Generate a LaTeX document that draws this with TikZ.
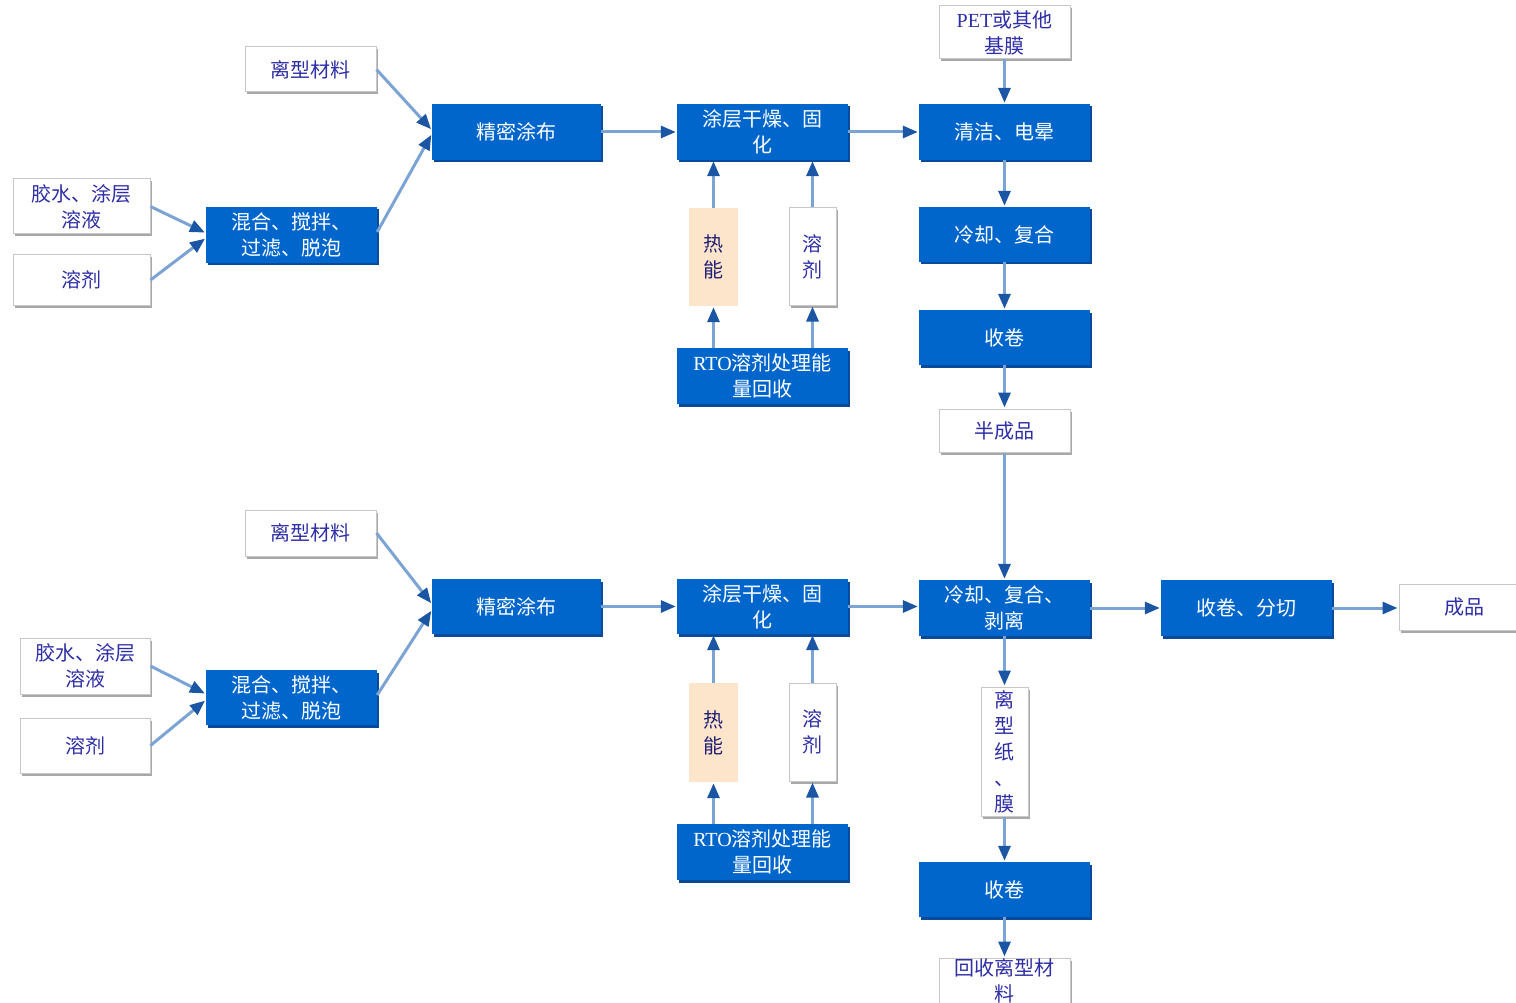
\documentclass[tikz,border=0pt]{standalone}
\usepackage{fontspec}
\newfontfamily\cjk{Noto Sans CJK SC}
\newfontfamily\lat{Liberation Serif}
\usetikzlibrary{arrows.meta,shadows,calc}
\definecolor{boxblue}{HTML}{0066CC}
\definecolor{shblue}{HTML}{0A4A9A}
\definecolor{linkblue}{HTML}{7BA4D4}
\definecolor{tipblue}{HTML}{1A56A4}
\definecolor{navy}{HTML}{2E2EA6}
\definecolor{beige}{HTML}{FDE5CC}
\definecolor{graybd}{HTML}{C8C8C8}
\definecolor{graysh}{HTML}{A8A8A8}
\begin{document}
\begin{tikzpicture}[x=1pt,y=-1pt,
 base/.style={inner sep=0pt, align=center, font=\cjk\fontsize{20}{26}\selectfont},
 bluebox/.style={base, fill=boxblue, text=white, drop shadow={shadow xshift=1.5pt,shadow yshift=-2.5pt,fill=shblue,opacity=1}},
 whitebox/.style={base, fill=white, draw=graybd, line width=1pt, text=navy, drop shadow={shadow xshift=1.5pt,shadow yshift=-2.5pt,fill=graysh,opacity=1}},
 beigebox/.style={base, fill=beige, text=navy!70!black},
 sz/.style 2 args={minimum width=#1pt, minimum height=#2pt},
 link/.style={draw=linkblue, line width=3pt, shorten >=1pt, -{Triangle[length=15pt,width=12pt,color=tipblue]}},
]
\useasboundingbox (0,0) rectangle (1516,1003);
\clip (0,0) rectangle (1516,1003);

% ---------- top line ----------
\node[whitebox, sz={131}{45}] (lx1) at (310.5,69.5) {离型材料};
\node[bluebox, sz={169}{56}] (jm1) at (516.5,132) {精密涂布};
\node[whitebox, sz={137}{55}] (jsh1) at (81.5,206.5) {胶水、涂层\\溶液};
\node[whitebox, sz={137}{50}] (rj1) at (81.5,280) {溶剂};
\node[bluebox, sz={171}{56}] (hh1) at (291.5,235) {混合、搅拌、\\过滤、脱泡};
\node[bluebox, sz={171}{56}] (gz1) at (762.5,132) {涂层干燥、固\\化};
\node[beigebox, sz={49}{98}] (rn1) at (713.5,257) {热\\能};
\node[whitebox, sz={47}{97}] (rjv1) at (812.5,256.5) {溶\\剂};
\node[bluebox, sz={171}{56}] (rto1) at (762.5,376) {{\lat RTO}溶剂处理能\\量回收};
\node[whitebox, sz={131}{53}] (pet) at (1004.5,32.5) {{\lat PET}或其他\\基膜};
\node[bluebox, sz={171}{56}] (qj) at (1004.5,132) {清洁、电晕};
\node[bluebox, sz={171}{55}] (lq) at (1004.5,234.5) {冷却、复合};
\node[bluebox, sz={171}{55}] (sj1) at (1004.5,337.5) {收卷};
\node[whitebox, sz={131}{43}] (bcp) at (1004.5,430.5) {半成品};

% ---------- bottom line ----------
\node[whitebox, sz={131}{46}] (lx2) at (310.5,533) {离型材料};
\node[bluebox, sz={169}{55}] (jm2) at (516.5,606.5) {精密涂布};
\node[whitebox, sz={130}{56}] (jsh2) at (85,666) {胶水、涂层\\溶液};
\node[whitebox, sz={130}{55}] (rj2) at (85,745.5) {溶剂};
\node[bluebox, sz={171}{55}] (hh2) at (291.5,697.5) {混合、搅拌、\\过滤、脱泡};
\node[bluebox, sz={171}{55}] (gz2) at (762.5,606.5) {涂层干燥、固\\化};
\node[beigebox, sz={49}{99}] (rn2) at (713.5,732.5) {热\\能};
\node[whitebox, sz={47}{98}] (rjv2) at (812.5,732) {溶\\剂};
\node[bluebox, sz={171}{56}] (rto2) at (762.5,852) {{\lat RTO}溶剂处理能\\量回收};
\node[bluebox, sz={171}{56}] (lqb) at (1004.5,608) {冷却、复合、\\剥离};
\node[bluebox, sz={171}{56}] (sjfq) at (1246.5,608) {收卷、分切};
\node[whitebox, sz={131}{46}] (cp) at (1464.5,607) {成品};
\node[whitebox, sz={47}{129}] (lxzm) at (1004.5,751.5) {离\\型\\纸\\、\\膜};
\node[bluebox, sz={171}{55}] (sj2) at (1004.5,889.5) {收卷};
\node[whitebox, sz={131}{45}] (hs) at (1004.5,980.5) {回收离型材\\料};

% ---------- connectors top ----------
\draw[link] (lx1.east) -- ($(jm1.west)+(0,-2)$);
\draw[link] ($(hh1.east)+(0,-3)$) -- ($(jm1.west)+(0,2)$);
\draw[link] (jsh1.east) -- ($(hh1.west)+(0,-2)$);
\draw[link] (rj1.east) -- ($(hh1.west)+(0,3)$);
\draw[link] (jm1.east) -- (gz1.west);
\draw[link] (gz1.east) -- (qj.west);
\draw[link] (rto1.north -| rn1.south) -- (rn1.south);
\draw[link] (rn1.north) -- (rn1.north |- gz1.south);
\draw[link] (rto1.north -| rjv1.south) -- (rjv1.south);
\draw[link] (rjv1.north) -- (rjv1.north |- gz1.south);
\draw[link] (pet) -- (qj);
\draw[link] (qj) -- (lq);
\draw[link] (lq) -- (sj1);
\draw[link] (sj1) -- (bcp);
\draw[link] (bcp) -- (lqb);

% ---------- connectors bottom ----------
\draw[link] (lx2.east) -- ($(jm2.west)+(0,-2.5)$);
\draw[link] ($(hh2.east)+(0,-2.5)$) -- ($(jm2.west)+(0,3.5)$);
\draw[link] (jsh2.east) -- ($(hh2.west)+(0,-3.5)$);
\draw[link] (rj2.east) -- ($(hh2.west)+(0,2.5)$);
\draw[link] (jm2.east) -- (gz2.west);
\draw[link] (gz2.east) -- (gz2.east -| lqb.west);
\draw[link] (rto2.north -| rn2.south) -- (rn2.south);
\draw[link] (rn2.north) -- (rn2.north |- gz2.south);
\draw[link] (rto2.north -| rjv2.south) -- (rjv2.south);
\draw[link] (rjv2.north) -- (rjv2.north |- gz2.south);
\draw[link] (lqb.east) -- (sjfq.west);
\draw[link] (sjfq.east) -- (sjfq.east -| cp.west);
\draw[link] (lqb) -- (lxzm);
\draw[link] (lxzm) -- (sj2);
\draw[link] (sj2) -- (hs);
\end{tikzpicture}
\end{document}
